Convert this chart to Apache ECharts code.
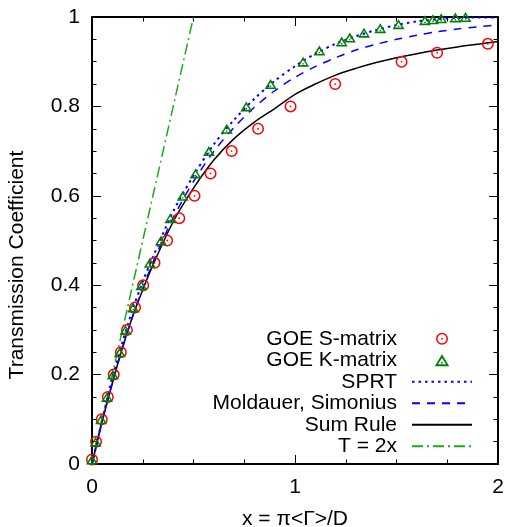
<!DOCTYPE html>
<html>
<head>
<meta charset="utf-8">
<script src="https://cdn.jsdelivr.net/npm/echarts@6/dist/echarts.min.js"></script>
<style>
  html, body { margin: 0; padding: 0; background: #fff; }
  #myChart { width: 507px; height: 527px; }
</style>
</head>
<body>
<div id="myChart"></div>
<script>
// GOE S-matrix points (red circles)
var sX = [0.0, 0.02, 0.048, 0.078, 0.107, 0.142, 0.172, 0.212, 0.252, 0.308, 0.37, 0.43, 0.505, 0.584, 0.688, 0.818, 0.978, 1.198, 1.525, 1.70, 1.95];
var sT = [0.01, 0.05, 0.10, 0.15, 0.20, 0.25, 0.30, 0.35, 0.40, 0.45, 0.50, 0.55, 0.60, 0.65, 0.70, 0.75, 0.80, 0.85, 0.90, 0.92, 0.94];

// GOE K-matrix points (green triangles)
var kX = [0.0, 0.018, 0.045, 0.074, 0.103, 0.137, 0.165, 0.203, 0.243, 0.285, 0.34, 0.386, 0.447, 0.51, 0.576, 0.664, 0.76, 0.88, 1.04, 1.12, 1.23, 1.27, 1.34, 1.42, 1.51, 1.64, 1.68, 1.72, 1.79, 1.84];
var kT = [0.01, 0.05, 0.10, 0.15, 0.20, 0.25, 0.30, 0.35, 0.40, 0.45, 0.50, 0.55, 0.60, 0.65, 0.70, 0.75, 0.80, 0.85, 0.90, 0.925, 0.945, 0.954, 0.965, 0.975, 0.984, 0.993, 0.995, 0.997, 0.999, 1.0];

// curves, sampled on the same x grid
var curveX = [0, 0.05, 0.1, 0.15, 0.2, 0.25, 0.3, 0.4, 0.5, 0.6, 0.7, 0.8, 0.9, 1.0, 1.1, 1.2, 1.3, 1.4, 1.5, 1.6, 1.7, 1.8, 1.9, 2.0];
var sprtT = [0, 0.098, 0.19, 0.272, 0.345, 0.408, 0.463, 0.565, 0.645, 0.715, 0.77, 0.817, 0.857, 0.89, 0.918, 0.94, 0.957, 0.971, 0.982, 0.99, 0.995, 0.998, 0.999, 0.999];
var moldT = [0, 0.095, 0.181, 0.259, 0.330, 0.393, 0.451, 0.551, 0.632, 0.699, 0.753, 0.798, 0.835, 0.865, 0.889, 0.909, 0.926, 0.939, 0.950, 0.959, 0.967, 0.973, 0.978, 0.982];
var sumT = [0, 0.095, 0.18, 0.26, 0.33, 0.39, 0.445, 0.542, 0.617, 0.68, 0.728, 0.765, 0.795, 0.827, 0.85, 0.87, 0.885, 0.898, 0.909, 0.918, 0.926, 0.933, 0.939, 0.945];

// T = 2x
var lineX = [0, 0.5];
var lineT = [0, 1];

function pairs(xs, ys) {
  return xs.map(function (x, i) { return [x, ys[i]]; });
}

var FONT = "Liberation Sans";
var ringPath = "path://M6,0A6,6,0,1,1,-6,0A6,6,0,1,1,6,0ZM4.5,0A4.5,4.5,0,1,0,-4.5,0A4.5,4.5,0,1,0,4.5,0ZM0.9,0A0.9,0.9,0,1,1,-0.9,0A0.9,0.9,0,1,1,0.9,0Z";
var triPath = "path://M0,-5.5L6,4.5L-6,4.5ZM0,-2.4L-3.4,2.9L3.4,2.9ZM-0.7,1L0.7,1L0.7,2.3L-0.7,2.3Z";

function frameAxis(pos, isX, showLabel) {
  return {
    type: "value",
    position: pos,
    min: 0,
    max: isX ? 2 : 1,
    interval: isX ? 1 : 0.2,
    axisLine: { show: true, onZero: false, lineStyle: { color: "#000", width: 2 } },
    axisTick: { show: true, inside: true, length: 9, lineStyle: { color: "#000", width: 1 } },
    minorTick: { show: true, splitNumber: 4, length: 4.5, lineStyle: { color: "#000", width: 1 } },
    splitLine: { show: false },
    axisLabel: {
      show: showLabel,
      color: "#000",
      fontSize: 21,
      fontFamily: FONT,
      margin: isX ? 13 : 12,
    },
  };
}

var xBottom = frameAxis("bottom", true, true);
xBottom.name = "x = π<Γ>/D";
xBottom.nameLocation = "middle";
xBottom.nameGap = 45;
xBottom.nameTextStyle = { color: "#000", fontSize: 21, fontFamily: FONT };

// line entries: hide the marker in the legend icon, keep the stroke
function lineEntry(name) {
  return { name: name, itemStyle: { opacity: 0 } };
}

var chart = echarts.init(document.getElementById("myChart"));
chart.setOption({
  animation: false,
  backgroundColor: "#fff",
  grid: { left: 92, right: 9, top: 17, bottom: 63, containLabel: false, outerBoundsMode: "none" },
  xAxis: [xBottom, frameAxis("top", true, false)],
  yAxis: [frameAxis("left", false, true), frameAxis("right", false, false)],
  graphic: [
    {
      type: "text",
      x: 17,
      y: 265,
      rotation: Math.PI / 2,
      style: {
        text: "Transmission Coefficient",
        fontSize: 21,
        fontFamily: FONT,
        fill: "#000",
        align: "center",
        verticalAlign: "middle",
      },
    },
  ],
  legend: {
    orient: "vertical",
    align: "right",
    right: 34,
    top: 328,
    padding: 0,
    itemGap: 0,
    itemWidth: 60,
    itemHeight: 12,
    selectedMode: false,
    textStyle: {
      color: "#000",
      fontSize: 21,
      fontFamily: FONT,
      lineHeight: 21.5,
      padding: [0, 10, 0, 0],
    },
    data: [
      "GOE S-matrix",
      "GOE K-matrix",
      lineEntry("SPRT"),
      lineEntry("Moldauer, Simonius"),
      lineEntry("Sum Rule"),
      lineEntry("T = 2x"),
    ],
  },
  series: [
    {
      name: "T = 2x",
      type: "line",
      symbol: "none",
      data: pairs(lineX, lineT),
      lineStyle: { color: "#1aaa1a", width: 1.5, type: [11, 4, 2, 4] },
      itemStyle: { color: "#1aaa1a" },
      z: 1,
    },
    {
      name: "Sum Rule",
      type: "line",
      symbol: "none",
      smooth: 0.3,
      data: pairs(curveX, sumT),
      lineStyle: { color: "#000", width: 1.5 },
      itemStyle: { color: "#000" },
      z: 2,
    },
    {
      name: "Moldauer, Simonius",
      type: "line",
      symbol: "none",
      smooth: 0.3,
      data: pairs(curveX, moldT),
      lineStyle: { color: "#0000ff", width: 1.5, type: [8, 7] },
      itemStyle: { color: "#0000ff" },
      z: 2,
    },
    {
      name: "SPRT",
      type: "line",
      symbol: "none",
      smooth: 0.3,
      data: pairs(curveX, sprtT),
      lineStyle: { color: "#0000ff", width: 2, type: [2.5, 4] },
      itemStyle: { color: "#0000ff" },
      z: 2,
    },
    {
      name: "GOE S-matrix",
      type: "scatter",
      symbol: ringPath,
      symbolSize: 12,
      data: pairs(sX, sT),
      itemStyle: { color: "#ff0000", opacity: 1 },
      z: 3,
    },
    {
      name: "GOE K-matrix",
      type: "scatter",
      symbol: triPath,
      symbolSize: [12, 10],
      data: pairs(kX, kT),
      itemStyle: { color: "#008000", opacity: 1 },
      z: 4,
    },
  ],
});
</script>
</body>
</html>
